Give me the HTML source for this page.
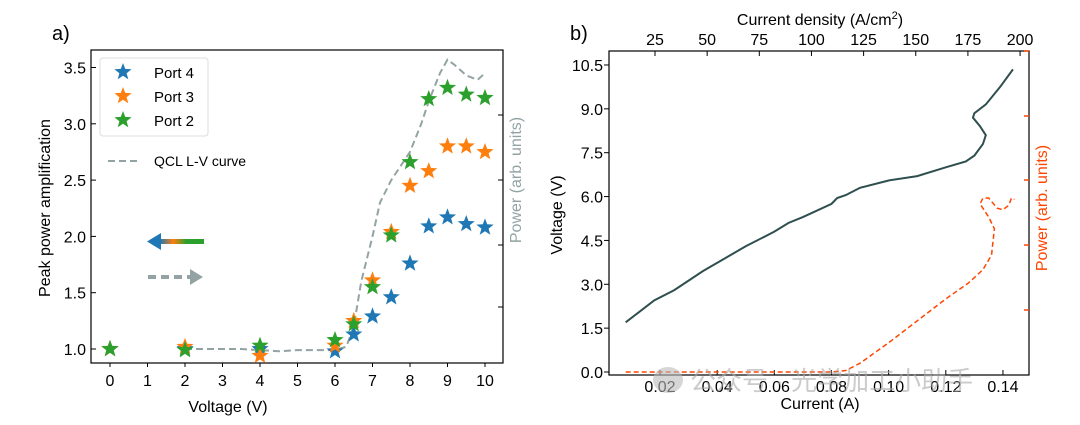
<!DOCTYPE html>
<html><head><meta charset="utf-8"><style>
body{margin:0;background:#fff;width:1080px;height:420px;overflow:hidden}
svg{font-family:"Liberation Sans","DejaVu Sans","Noto Sans CJK SC",sans-serif}
</style></head><body>
<svg id="s" width="1080" height="420" xmlns="http://www.w3.org/2000/svg">
<defs>
<linearGradient id="grad" x1="0" x2="1"><stop offset="0" stop-color="#1f77b4"/><stop offset="0.3" stop-color="#ff7f0e"/><stop offset="0.6" stop-color="#2ca02c"/><stop offset="1" stop-color="#2ca02c"/></linearGradient></defs>
<text x="52" y="40" font-size="20">a)</text>
<text x="570" y="40" font-size="20">b)</text>
<g id="A"></g>
<g id="B"></g>
<g opacity="0.6">
<ellipse cx="668" cy="380" rx="15" ry="13" fill="#bbb"/>
<text x="690" y="390" font-size="26" fill="#aaa">公众号 · 光学加工小助手</text>
</g>
</svg>
<script>
const ns="http://www.w3.org/2000/svg";
function mk(p,t,a,txt){const e=document.createElementNS(ns,t);for(const k in a)e.setAttribute(k,a[k]);if(txt!==undefined)e.textContent=txt;p.appendChild(e);return e;}
// Chart A data
const voltsA=[0,2,4,6,6.5,7,7.5,8,8.5,9,9.5,10];
const port4=[1.0,1.0,1.0,0.98,1.13,1.29,1.46,1.76,2.09,2.17,2.11,2.08];
const port3=[1.0,1.02,0.94,1.03,1.25,1.61,2.04,2.45,2.58,2.80,2.80,2.75];
const port2=[1.0,0.99,1.03,1.08,1.22,1.55,2.01,2.66,3.22,3.32,3.26,3.23];
const qclV=[2,3,3.5,4,4.5,5,5.5,6,6.3,6.5,6.7,7,7.2,7.5,8,8.3,8.5,8.8,9,9.2,9.5,9.8,10];
const qclP=[1.0,1.0,1.0,0.99,0.98,0.99,0.99,0.99,1.02,1.2,1.6,2.0,2.3,2.5,2.75,3.0,3.2,3.45,3.57,3.52,3.43,3.39,3.45];
const xTicksA=[0,1,2,3,4,5,6,7,8,9,10];
const yTicksA=[1.0,1.5,2.0,2.5,3.0,3.5];
// Chart B data
const curI=[0.008,0.012,0.018,0.025,0.035,0.05,0.06,0.065,0.07,0.08,0.082,0.085,0.09,0.1,0.11,0.12,0.127,0.13,0.133,0.134,0.132,0.1295,0.13,0.134,0.139,0.1435];
const voltB=[1.7,2.0,2.45,2.8,3.45,4.3,4.8,5.1,5.3,5.75,5.95,6.05,6.3,6.55,6.7,7.0,7.2,7.4,7.8,8.1,8.4,8.7,8.85,9.15,9.75,10.35];
const powI=[0.008,0.08,0.085,0.09,0.1,0.11,0.12,0.128,0.133,0.136,0.137,0.135,0.132,0.133,0.135,0.138,0.140,0.142,0.143,0.144];
const powB=[0,0,0.05,0.3,1.0,1.75,2.5,3.05,3.5,4.0,4.9,5.3,5.75,5.95,5.95,5.6,5.55,5.7,5.95,5.9];
const xTicksB=[0.02,0.04,0.06,0.08,0.10,0.12,0.14];
const yTicksB=[0,1.5,3,4.5,6,7.5,9,10.5];
const topTicksB=[25,50,75,100,125,150,175,200];

// ---- Chart A ----
const A=document.getElementById('A');
const xA=v=>110+v*37.5, yA=v=>349-(v-1)*112.6;
mk(A,'rect',{x:91,y:50,width:412,height:313,fill:'none',stroke:'#000','stroke-width':1.2});
xTicksA.forEach(t=>{mk(A,'line',{x1:xA(t),x2:xA(t),y1:363,y2:367,stroke:'#000'});const e=mk(A,'text',{x:xA(t),y:386,'font-size':16,'text-anchor':'middle'},t);});
yTicksA.forEach(t=>{mk(A,'line',{x1:91,x2:96,y1:yA(t),y2:yA(t),stroke:'#000'});const e=mk(A,'text',{x:86,y:yA(t)+6,'font-size':16,'text-anchor':'end'},t.toFixed(1));});
[115,180,245,307].forEach(y=>mk(A,'line',{x1:498,x2:503,y1:y,y2:y,stroke:'#000'}));
let t=mk(A,'text',{x:228,y:412,'font-size':16,'text-anchor':'middle'},'Voltage (V)');
t=mk(A,'text',{x:0,y:0,'font-size':16,'text-anchor':'middle',transform:'translate(50,208) rotate(-90)'},'Peak power amplification');
t=mk(A,'text',{x:0,y:0,'font-size':16,'text-anchor':'middle',fill:'#93a3a3',transform:'translate(521,180) rotate(-90)'},'Power (arb. units)');
let d=qclV.map((v,i)=>(i?'L':'M')+xA(v)+','+yA(qclP[i])).join('');
t=mk(A,'path',{d:d,fill:'none',stroke:'#93a3a3','stroke-width':2,'stroke-dasharray':'7,4'});
function star(p,cx,cy,r,col){let pts=[];for(let i=0;i<10;i++){const a=-Math.PI/2+i*Math.PI/5,rr=i%2?r*0.42:r;pts.push((cx+rr*Math.cos(a)).toFixed(1)+','+(cy+rr*Math.sin(a)).toFixed(1));}return mk(p,'polygon',{points:pts.join(' '),fill:col});}
[[port4,'#1f77b4'],[port3,'#ff7f0e'],[port2,'#2ca02c']].forEach(([s,c])=>s.forEach((v,i)=>{const e=star(A,xA(voltsA[i]),yA(v),9,c);}));
// legend
const L=mk(A,'g',{});
mk(L,'rect',{x:100,y:58,width:108,height:78,rx:3,fill:'#fff',stroke:'#ddd'});
[['Port 4','#1f77b4'],['Port 3','#ff7f0e'],['Port 2','#2ca02c']].forEach((e,i)=>{star(L,123,72+i*24,9,e[1]);const q=mk(L,'text',{x:154,y:78+i*24,'font-size':15},e[0]);});
mk(L,'line',{x1:108,x2:140,y1:161,y2:161,stroke:'#93a3a3','stroke-width':2,'stroke-dasharray':'7,4'});
t=mk(L,'text',{x:154,y:166,'font-size':14},'QCL L-V curve');
// arrows
mk(A,'rect',{x:160,y:239,width:44,height:5,fill:'url(#grad)'});
mk(A,'polygon',{points:'147,241.5 161,233 161,250',fill:'#1f77b4'});
mk(A,'line',{x1:148,x2:190,y1:277,y2:277,stroke:'#93a3a3','stroke-width':4,'stroke-dasharray':'8,5'});
mk(A,'polygon',{points:'203,277 190,269 190,285',fill:'#93a3a3'});

// ---- Chart B ----
const B=document.getElementById('B');
const xB=v=>660+(v-0.02)*2858, yB=v=>372-v*29.24, xJ=j=>660+(j/1370-0.02)*2858;
mk(B,'rect',{x:609,y:51,width:420,height:324,fill:'none',stroke:'#000','stroke-width':1.2});
xTicksB.forEach(v=>{mk(B,'line',{x1:xB(v),x2:xB(v),y1:375,y2:370,stroke:'#000'});const e=mk(B,'text',{x:xB(v),y:392,'font-size':16,'text-anchor':'middle'},v.toFixed(2));});
yTicksB.forEach(v=>{mk(B,'line',{x1:604,x2:609,y1:yB(v),y2:yB(v),stroke:'#000'});const e=mk(B,'text',{x:603,y:yB(v)+6,'font-size':16,'text-anchor':'end'},v.toFixed(1));});
topTicksB.forEach(v=>{mk(B,'line',{x1:xJ(v),x2:xJ(v),y1:51,y2:56,stroke:'#000'});const e=mk(B,'text',{x:xJ(v),y:45,'font-size':16,'text-anchor':'middle'},v);});
[51,116,180,245,310].forEach(y=>mk(B,'line',{x1:1024,x2:1029,y1:y,y2:y,stroke:'#ff4500','stroke-width':1.5}));
t=mk(B,'text',{x:820,y:409,'font-size':16,'text-anchor':'middle'},'Current (A)');
t=mk(B,'text',{x:820,y:25,'font-size':16,'text-anchor':'middle'},'Current density (A/cm');
mk(t,'tspan',{'font-size':11,dy:-6},'2');mk(t,'tspan',{dy:6},')');
t=mk(B,'text',{x:0,y:0,'font-size':16,'text-anchor':'middle',transform:'translate(562,215) rotate(-90)'},'Voltage (V)');
t=mk(B,'text',{x:0,y:0,'font-size':16,'text-anchor':'middle',fill:'#ff4500',transform:'translate(1047,208) rotate(-90)'},'Power (arb. units)');
d=curI.map((v,i)=>(i?'L':'M')+xB(v)+','+yB(voltB[i])).join('');
t=mk(B,'path',{d:d,fill:'none',stroke:'#2f4f4f','stroke-width':2});
d=powI.map((v,i)=>(i?'L':'M')+xB(v)+','+yB(powB[i])).join('');
t=mk(B,'path',{d:d,fill:'none',stroke:'#ff4500','stroke-width':1.5,'stroke-dasharray':'5,3'});
</script>
</body></html>
